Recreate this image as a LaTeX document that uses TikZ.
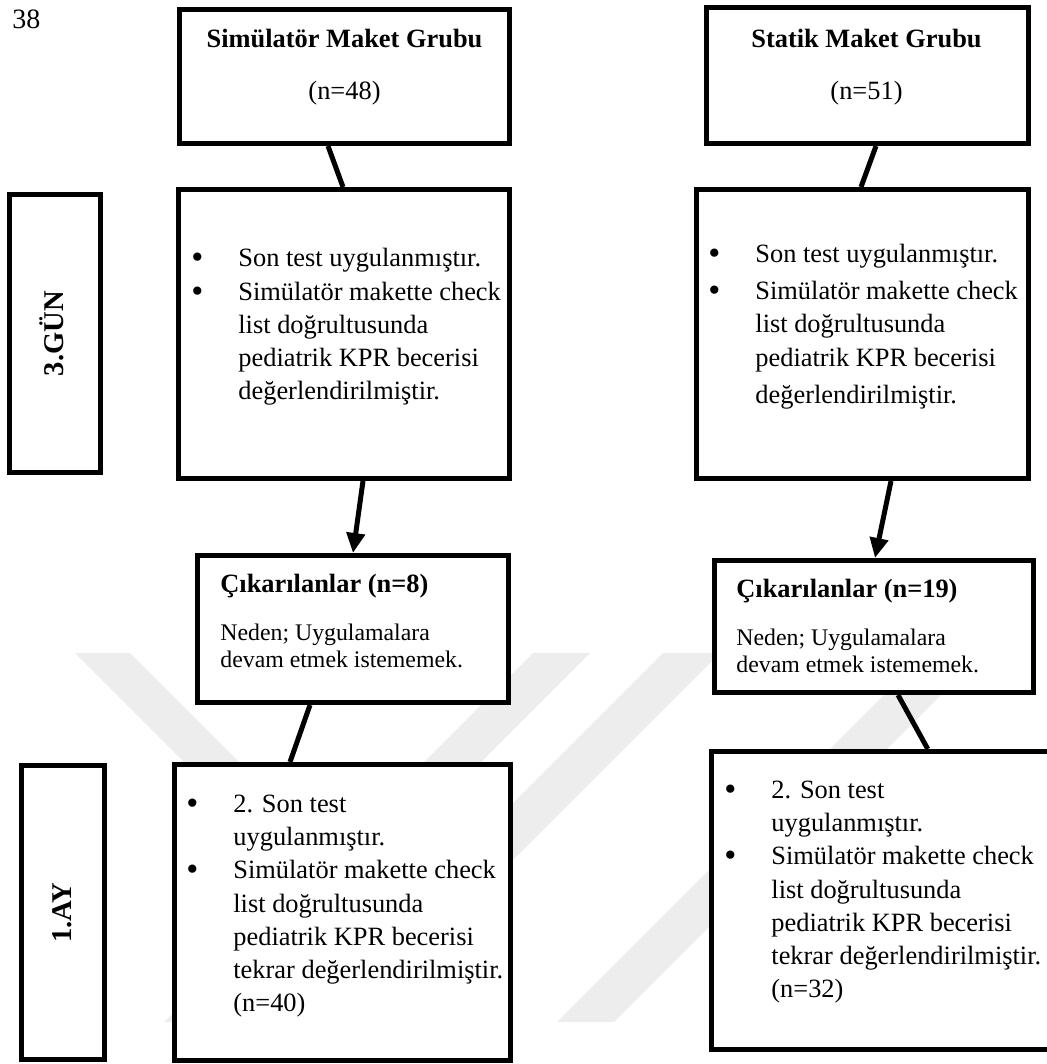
\documentclass[tikz,border=0pt]{standalone}
\usepackage{fontspec}
\setmainfont{Liberation Serif}
\usetikzlibrary{arrows.meta,calc}
\definecolor{filigran}{RGB}{237,237,237}
\newcommand{\metin}{\fontsize{13.2pt}{16.6pt}\selectfont}
\newcommand{\kucuk}{\fontsize{11.9pt}{13.5pt}\selectfont}
\newcommand{\madde}{\strut\makebox[23pt][l]{\hspace*{-0.5pt}\raisebox{-1pt}{\scalebox{1.3}{\textbullet}}}}
\newcommand{\bos}{\strut\hspace*{23pt}}
\tikzset{
  kutu/.style={draw, line width=2.5pt, fill=white, inner sep=0pt},
  yazi/.style={inner sep=0pt, font=\metin},
  baslik/.style={inner sep=0pt, font=\metin\bfseries},
  liste/.style={inner sep=0pt, align=left, font=\metin, anchor=north west},
  neden/.style={inner sep=0pt, align=left, font=\kucuk, anchor=north west},
  donem/.style={inner sep=0pt, rotate=90, font=\fontsize{14.3pt}{17pt}\selectfont\bfseries},
  cizgi/.style={line width=2.5pt},
  ok/.style={line width=2.5pt, -{Triangle[length=10pt,width=9pt]}},
}

\begin{document}
\begin{tikzpicture}[x=0.5pt,y=-0.5pt]
  \useasboundingbox (0,0) rectangle (1046,1064);
  % filigran
  \fill[filigran] (75,653) -- (130,653) -- (499,1022) -- (444,1022) -- cycle;
  \fill[filigran] (533,653) -- (590,653) -- (221,1022) -- (164,1022) -- cycle;
  \fill[filigran] (663,653) -- (720,653) -- (351,1022) -- (294,1022) -- cycle;
  \fill[filigran] (926,653) -- (983,653) -- (614,1022) -- (557,1022) -- cycle;

  \node[yazi, font=\fontsize{14pt}{16pt}\selectfont, anchor=base west] (sayfa) at (12,29) {38};

  % donemler
  \node[kutu, minimum width=45.5pt, minimum height=139pt] (gun) at (55,333.5) {};
  \node[donem] (gunT) at ($(gun.center)+(-3,0)$) {3.GÜN};
  \node[kutu, minimum width=41.5pt, minimum height=147pt] (ay) at (63,912.5) {};
  \node[donem] (ayT) at ($(ay.center)+(-1,0)$) {1.AY};

  % simulator grubu
  \node[kutu, minimum width=165pt, minimum height=67pt] (sg) at (344.5,76.5) {};
  \node[baslik, anchor=base] (sgT) at (344.5,48) {Simülatör Maket Grubu};
  \node[yazi, anchor=base] (sgN) at (344.5,100) {(n=48)};
  \node[kutu, minimum width=165.5pt, minimum height=144.5pt] (ss) at (344,334) {};
  \node[liste] (ssT) at (192,243.3) {\madde Son test uygulanmıştır.\\ \madde Simülatör makette check\\ \bos list doğrultusunda\\ \bos pediatrik KPR becerisi\\ \bos değerlendirilmiştir.};
  \node[kutu, minimum width=155.5pt, minimum height=73.5pt] (sc) at (353,629) {};
  \node[baslik, anchor=base west] (scT) at (220,592) {Çıkarılanlar (n=8)};
  \node[neden] (scN) at (220,621.1) {\strut Neden; Uygulamalara\\ \strut devam etmek istememek.};
  \node[kutu, minimum width=168pt, minimum height=148pt] (sa) at (342.5,912.5) {};
  \node[liste] (saT) at (187,788.8) {\madde 2. Son test\\ \bos uygulanmıştır.\\ \madde Simülatör makette check\\ \bos list doğrultusunda\\ \bos pediatrik KPR becerisi\\ \bos tekrar değerlendirilmiştir.\\ \bos (n=40)};

  % statik grubu
  \node[kutu, minimum width=161pt, minimum height=68pt] (tg) at (867.5,75.5) {};
  \node[baslik, anchor=base] (tgT) at (866.5,48) {Statik Maket Grubu};
  \node[yazi, anchor=base] (tgN) at (866.5,100) {(n=51)};
  \node[kutu, minimum width=166pt, minimum height=144.5pt] (ts) at (862.5,334) {};
  \node[liste] (tsT) at (709,238.8) {\madde Son test uygulanmıştır.\\[2pt] \madde Simülatör makette check\\ \bos list doğrultusunda\\ \bos pediatrik KPR becerisi\\[2pt] \bos değerlendirilmiştir.};
  \node[kutu, minimum width=159.5pt, minimum height=66pt] (tc) at (874,626.5) {};
  \node[baslik, anchor=base west] (tcT) at (736,597) {Çıkarılanlar (n=19)};
  \node[neden] (tcN) at (736,626.1) {\strut Neden; Uygulamalara\\ \strut devam etmek istememek.};
  \node[kutu, minimum width=174.25pt, minimum height=149pt] (ta) at (885.75,900.5) {};
  \node[liste] (taT) at (725,774.8) {\madde 2. Son test\\ \bos uygulanmıştır.\\ \madde Simülatör makette check\\ \bos list doğrultusunda\\ \bos pediatrik KPR becerisi\\ \bos tekrar değerlendirilmiştir.\\ \bos (n=32)};

  % baglantilar
  \draw[cizgi] ($(sg.south)+(-16.5,0)$) -- ($(ss.north)+(-1,0)$);
  \draw[ok] ($(ss.south)+(19,0)$) -- (sc.north);
  \draw[cizgi] ($(sc.south)+(-43,0)$) -- ($(sa.north)+(-52.5,0)$);
  \draw[cizgi] ($(tg.south)+(8.5,0)$) -- ($(ts.north)+(-1.5,0)$);
  \draw[ok] ($(ts.south)+(28.5,0)$) -- ($(tc.north)+(1,0)$);
  \draw[cizgi] ($(tc.south)+(24,0)$) -- ($(ta.north)+(42,0)$);
\end{tikzpicture}
\end{document}
